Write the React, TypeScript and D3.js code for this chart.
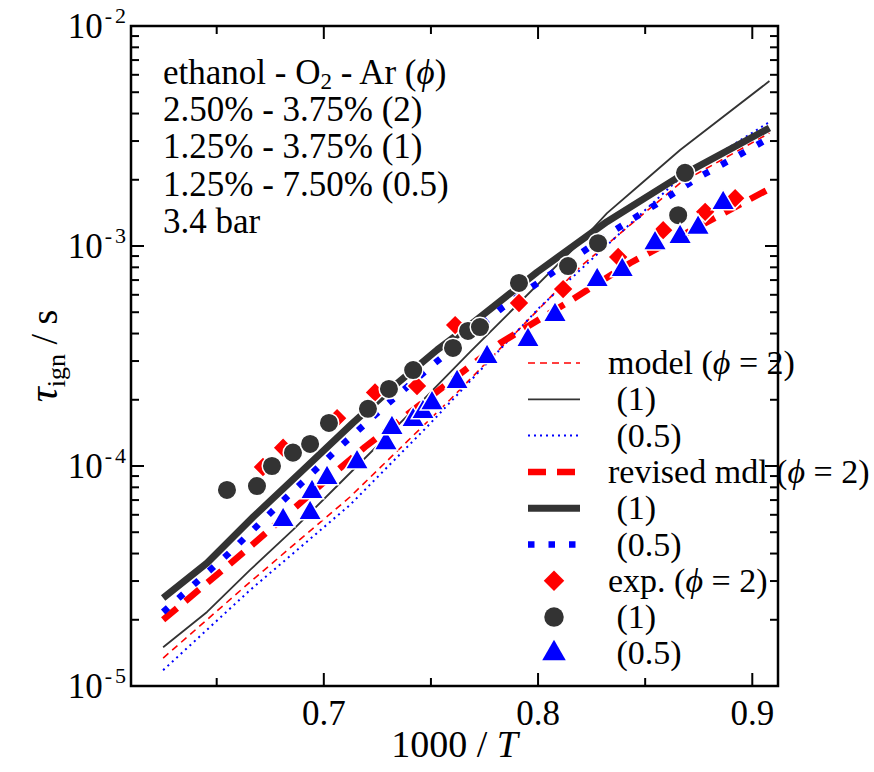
import React from "react";
import * as d3 from "d3";

// ---------- data ----------
const xMajorTicks = [0.7, 0.8, 0.9];
const xMinorTicks = [0.65, 0.75, 0.85];
const yDecadeExps = [-5, -4, -3, -2];

// model (thin lines)
const mod2X = [0.625, 0.6656, 0.7122, 0.7589, 0.8196, 0.8663, 0.908];
const mod2Y = [1.34e-5, 2.97e-5, 7.23e-5, 2.0e-4, 8.03e-4, 1.93e-3, 3.26e-3];
const mod1X = [0.625, 0.6455, 0.6656, 0.6856, 0.7076, 0.7449, 0.7683, 0.8196, 0.8322, 0.8462, 0.8663, 0.908];
const mod1Y = [1.5e-5, 2.17e-5, 3.37e-5, 5.12e-5, 8.37e-5, 1.93e-4, 3.3e-4, 1.04e-3, 1.41e-3, 1.85e-3, 2.73e-3, 5.62e-3];
const mod05X = [0.625, 0.6656, 0.7122, 0.748, 0.8009, 0.8663, 0.908];
const mod05Y = [1.18e-5, 2.73e-5, 6.65e-5, 1.5e-4, 5.28e-4, 2.04e-3, 3.66e-3];

// revised model (thick lines)
const rev2X = [0.625, 0.6539, 0.6665, 0.7066, 0.7192, 0.7823, 0.814, 0.843, 0.908];
const rev2Y = [2.0e-5, 3.44e-5, 4.37e-5, 9.59e-5, 1.22e-4, 3.62e-4, 5.56e-4, 8.37e-4, 1.82e-3];
const rev1X = [0.625, 0.6455, 0.667, 0.6903, 0.7136, 0.7323, 0.7529, 0.7683, 0.7995, 0.8322, 0.8649, 0.908];
const rev1Y = [2.51e-5, 3.62e-5, 5.86e-5, 9.59e-5, 1.57e-4, 2.29e-4, 3.37e-4, 4.37e-4, 7.6e-4, 1.29e-3, 2.04e-3, 3.44e-3];
const rev05X = [0.625, 0.6558, 0.6847, 0.7066, 0.729, 0.7519, 0.7832, 0.8079, 0.8327, 0.8584, 0.8752, 0.8929, 0.908];
const rev05Y = [2.17e-5, 4.02e-5, 7.54e-5, 1.2e-4, 1.89e-4, 2.94e-4, 5.23e-4, 7.7e-4, 1.13e-3, 1.62e-3, 2.06e-3, 2.56e-3, 3.1e-3];

// experiments
const exp2X = [0.6716, 0.681, 0.7062, 0.7239, 0.7435, 0.7613, 0.7911, 0.8117, 0.8374, 0.8584, 0.878, 0.892];
const exp2Y = [9.9e-5, 1.21e-4, 1.65e-4, 2.16e-4, 2.31e-4, 4.37e-4, 5.51e-4, 6.37e-4, 8.91e-4, 1.18e-3, 1.43e-3, 1.65e-3];
const exp1X = [0.6548, 0.6688, 0.6758, 0.6856, 0.6936, 0.7024, 0.7206, 0.7304, 0.7417, 0.7603, 0.7673, 0.7729, 0.7911, 0.814, 0.828, 0.8654, 0.8686];
const exp1Y = [7.78e-5, 8.11e-5, 1.0e-4, 1.15e-4, 1.26e-4, 1.57e-4, 1.82e-4, 2.24e-4, 2.73e-4, 3.44e-4, 4.11e-4, 4.28e-4, 6.79e-4, 8.11e-4, 1.03e-3, 1.38e-3, 2.15e-3];
const exp05X = [0.681, 0.6936, 0.6945, 0.7015, 0.7155, 0.729, 0.7318, 0.7417, 0.7463, 0.7505, 0.7622, 0.7762, 0.7953, 0.8079, 0.8276, 0.8393, 0.8546, 0.8663, 0.8747, 0.8864];
const exp05Y = [5.68e-5, 6.11e-5, 7.62e-5, 8.82e-5, 1.04e-4, 1.27e-4, 1.49e-4, 1.62e-4, 1.76e-4, 1.93e-4, 2.41e-4, 3.13e-4, 3.74e-4, 4.86e-4, 7.0e-4, 7.78e-4, 1.03e-3, 1.1e-3, 1.21e-3, 1.57e-3];

const annotationLines = ["2.50% - 3.75% (2)", "1.25% - 3.75% (1)", "1.25% - 7.50% (0.5)", "3.4 bar"];
const PHI = "\u03D5";

// ---------- layout ----------
const W = 874, H = 772;
const L = 131, R = 778, T = 26, B = 686;
const FONT = "Liberation Serif, Times New Roman, Times, serif";
const RED = "#ff0000", BLUE = "#0000ff", DARK = "#333333";

const x = d3.scaleLinear().domain([0.61, 0.912]).range([L, R]);
const y = d3.scaleLog().domain([1e-5, 1e-2]).range([B, T]);

const zip = (xs: number[], ys: number[]) => xs.map((v, i) => [v, ys[i]] as [number, number]);
const lineGen = d3.line<[number, number]>().x(d => x(d[0])).y(d => y(d[1]));

type LineStyle = { stroke: string; width: number; dash?: string };
const styles: Record<string, LineStyle> = {
  mod2: { stroke: RED, width: 1.6, dash: "7,5" },
  mod1: { stroke: DARK, width: 1.8 },
  mod05: { stroke: BLUE, width: 2, dash: "2,4" },
  rev2: { stroke: RED, width: 6.5, dash: "18,11" },
  rev1: { stroke: DARK, width: 7 },
  rev05: { stroke: BLUE, width: 6.5, dash: "6.5,14" },
};

const diamond = d3.symbol().type(d3.symbolSquare).size(210)()!;
const circle = d3.symbol().type(d3.symbolCircle).size(300)()!;
const tri = d3.symbol().type(d3.symbolTriangle).size(240)()!;

const txt: React.CSSProperties = { fontFamily: FONT };

function Path({ xs, ys, st }: { xs: number[]; ys: number[]; st: LineStyle }) {
  return (
    <path d={lineGen(zip(xs, ys)) || ""} fill="none" stroke={st.stroke} strokeWidth={st.width}
      strokeDasharray={st.dash} strokeLinejoin="round" />
  );
}

export default function App() {
  const yMinor: number[] = [];
  for (let e = -5; e < -2; e++) for (let k = 2; k <= 9; k++) yMinor.push(k * Math.pow(10, e));

  const legendRows = [
    { kind: "line", st: styles.mod2, label: "model" },
    { kind: "line", st: styles.mod1, label: " (1)" },
    { kind: "line", st: styles.mod05, label: " (0.5)" },
    { kind: "line", st: styles.rev2, label: "revised mdl" },
    { kind: "line", st: styles.rev1, label: " (1)" },
    { kind: "line", st: styles.rev05, label: " (0.5)" },
    { kind: "diamond", label: "exp." },
    { kind: "circle", label: " (1)" },
    { kind: "tri", label: " (0.5)" },
  ];

  return (
    <svg width={W} height={H} style={{ position: "absolute", left: 0, top: 0, background: "#fff" }}>
      <rect x={0} y={0} width={W} height={H} fill="#fff" />

      {/* lines */}
      <Path xs={mod1X} ys={mod1Y} st={styles.mod1} />
      <Path xs={mod2X} ys={mod2Y} st={styles.mod2} />
      <Path xs={mod05X} ys={mod05Y} st={styles.mod05} />
      <Path xs={rev1X} ys={rev1Y} st={styles.rev1} />
      <Path xs={rev2X} ys={rev2Y} st={styles.rev2} />
      <Path xs={rev05X} ys={rev05Y} st={styles.rev05} />

      {/* markers */}
      {exp2X.map((v, i) => (
        <path key={"d" + i} d={diamond} transform={`translate(${x(v)},${y(exp2Y[i])}) rotate(45)`}
          fill={RED} stroke="#fff" strokeWidth={1.5} />
      ))}
      {exp1X.map((v, i) => (
        <path key={"c" + i} d={circle} transform={`translate(${x(v)},${y(exp1Y[i])})`}
          fill={DARK} stroke="#fff" strokeWidth={1.5} />
      ))}
      {exp05X.map((v, i) => (
        <path key={"t" + i} d={tri} transform={`translate(${x(v)},${y(exp05Y[i])})`}
          fill={BLUE} stroke="#fff" strokeWidth={1.5} />
      ))}

      {/* frame */}
      <rect x={L} y={T} width={R - L} height={B - T} fill="none" stroke="#000" strokeWidth={2.5} />

      {/* x ticks */}
      {xMajorTicks.map(t => (
        <g key={"xm" + t}>
          <line x1={x(t)} x2={x(t)} y1={B} y2={B - 13} stroke="#000" strokeWidth={2} />
          <line x1={x(t)} x2={x(t)} y1={T} y2={T + 13} stroke="#000" strokeWidth={2} />
          <text x={x(t)} y={725} fontSize={35} textAnchor="middle" style={txt}>{t.toFixed(1)}</text>
        </g>
      ))}
      {xMinorTicks.map(t => (
        <g key={"xn" + t}>
          <line x1={x(t)} x2={x(t)} y1={B} y2={B - 8} stroke="#000" strokeWidth={2} />
          <line x1={x(t)} x2={x(t)} y1={T} y2={T + 8} stroke="#000" strokeWidth={2} />
        </g>
      ))}

      {/* y ticks */}
      {yDecadeExps.map(e => {
        const v = Math.pow(10, e);
        return (
          <g key={"ym" + e}>
            <line x1={L} x2={L + 13} y1={y(v)} y2={y(v)} stroke="#000" strokeWidth={2} />
            <line x1={R} x2={R - 13} y1={y(v)} y2={y(v)} stroke="#000" strokeWidth={2} />
            <text x={126} y={y(v) + 12} fontSize={35} textAnchor="end" style={txt}>
              10<tspan fontSize={22} dy={-15} dx={2}>-</tspan><tspan fontSize={22} dx={3}>{String(-e)}</tspan>
            </text>
          </g>
        );
      })}
      {yMinor.map((v, i) => (
        <g key={"yn" + i}>
          <line x1={L} x2={L + 8} y1={y(v)} y2={y(v)} stroke="#000" strokeWidth={2} />
          <line x1={R} x2={R - 8} y1={y(v)} y2={y(v)} stroke="#000" strokeWidth={2} />
        </g>
      ))}

      {/* axis titles */}
      <text x={(L + R) / 2} y={757} fontSize={38} textAnchor="middle" style={txt}>
        1000 / <tspan fontStyle="italic">T</tspan>
      </text>
      <text transform={`translate(57,${(T + B) / 2}) rotate(-90)`} fontSize={38} textAnchor="middle" style={txt}>
        <tspan fontStyle="italic" fontSize={42}>τ</tspan><tspan fontSize={26} dy={8}>ign</tspan><tspan dy={-8}> / s</tspan>
      </text>

      {/* annotation */}
      <g fontSize={35} style={txt}>
        <text x={163} y={84}>
          ethanol - O<tspan fontSize={23} dy={5}>2</tspan><tspan dy={-5}> - Ar (</tspan><tspan fontStyle="italic">{PHI}</tspan>)
        </text>
        {annotationLines.map((s, i) => (
          <text key={s} x={163} y={121 + i * 37.3}>{s}</text>
        ))}
      </g>

      {/* legend */}
      <g fontSize={34} style={txt}>
        {legendRows.map((r, i) => {
          const cy = 363 + i * 36.3;
          let mark: React.ReactNode = null;
          if (r.kind === "line") {
            const st = r.st as LineStyle;
            mark = <line x1={528} x2={580} y1={cy} y2={cy} stroke={st.stroke} strokeWidth={st.width} strokeDasharray={st.dash} />;
          } else if (r.kind === "diamond") {
            mark = <path d={diamond} transform={`translate(554,${cy}) rotate(45)`} fill={RED} />;
          } else if (r.kind === "circle") {
            mark = <path d={circle} transform={`translate(554,${cy})`} fill={DARK} />;
          } else {
            mark = <path d={tri} transform={`translate(554,${cy})`} fill={BLUE} />;
          }
          const hasPhi = r.label === "model" || r.label === "revised mdl" || r.label === "exp.";
          return (
            <g key={i}>
              {mark}
              <text x={608} y={cy + 11} xmlSpace="preserve">
                {r.label}{hasPhi ? <>{" ("}<tspan fontStyle="italic">{PHI}</tspan>{" = 2)"}</> : null}
              </text>
            </g>
          );
        })}
      </g>
    </svg>
  );
}
